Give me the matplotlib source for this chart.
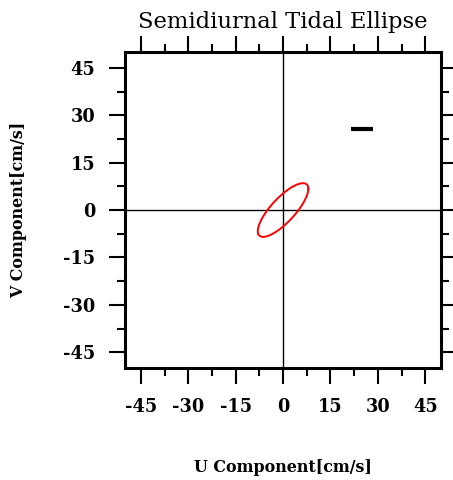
import numpy as np
import matplotlib
matplotlib.use("Agg")
import matplotlib.pyplot as plt
from matplotlib.ticker import MultipleLocator

# semidiurnal constituent, amplitudes in cm/s and phases in degrees
u_amp = 8.0
u_phase = 0.0
v_amp = 8.5
v_phase = 38.0

# reference bar drawn in upper right
bar_x = [21.5, 28.5]
bar_y = [25.5, 25.5]

ticks = [-45, -30, -15, 0, 15, 30, 45]

plt.rcParams['font.family'] = ['DejaVu Serif']
plt.rcParams['axes.unicode_minus'] = False

fig = plt.figure(figsize=(4.53, 4.80), dpi=100)
ax = fig.add_axes([0.276, 0.2333, 0.6976, 0.6583])

t = np.linspace(0, 2 * np.pi, 361)
u = u_amp * np.cos(t - np.radians(u_phase))
v = v_amp * np.cos(t - np.radians(v_phase))

ax.axhline(0, color="black", linewidth=1.0, zorder=1)
ax.axvline(0, color="black", linewidth=1.0, zorder=1)
ax.plot(u, v, color="red", linewidth=1.4, zorder=3)
ax.plot(bar_x, bar_y, color="black", linewidth=3, solid_capstyle="butt")

ax.set_xlim(-50, 50)
ax.set_ylim(-50, 50)
ax.set_xticks(ticks)
ax.set_yticks(ticks)
ax.xaxis.set_minor_locator(MultipleLocator(7.5))
ax.yaxis.set_minor_locator(MultipleLocator(7.5))
ax.tick_params(which="both", direction="out", top=True, right=True, width=1.5)
ax.tick_params(which="major", length=11.5, pad=10, labelsize=12.8)
ax.tick_params(which="minor", length=5.8)
for lab in ax.get_xticklabels() + ax.get_yticklabels():
    lab.set_fontweight("bold")
for s in ax.spines.values():
    s.set_linewidth(2.2)

ax.set_title("Semidiurnal Tidal Ellipse", fontsize=16.3, pad=17.5)
ax.set_xlabel("U Component[cm/s]", fontsize=11.4, fontweight="bold", labelpad=31)
ax.set_ylabel("V Component[cm/s]", fontsize=11.4, fontweight="bold", labelpad=26)

fig.savefig("out.png", dpi=100)
